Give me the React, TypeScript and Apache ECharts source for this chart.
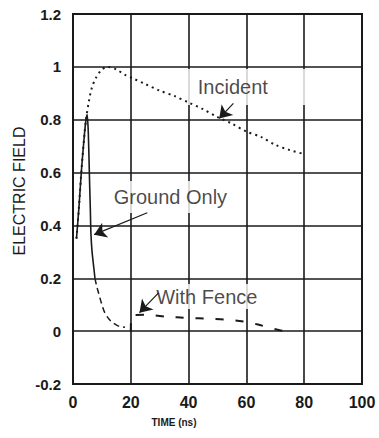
import React, { useEffect, useRef } from "react";
import * as echarts from "echarts";

const xTickLabels = ["0", "20", "40", "60", "80", "100"];
const yTickLabels = ["-0.2", "0", "0.2", "0.4", "0.6", "0.8", "1", "1.2"];

const incident: [number, number][] = [
  [1.2, 0.35], [2, 0.46], [3, 0.62], [4, 0.75], [4.5, 0.8], [5.5, 0.87], [6.5, 0.92],
  [8, 0.96], [10, 0.99], [12, 1.0], [15, 0.99], [18, 0.97], [21, 0.955], [25, 0.935],
  [30, 0.91], [35, 0.89], [40, 0.865], [45, 0.84], [50, 0.81], [55, 0.785], [60, 0.755],
  [65, 0.735], [70, 0.705], [75, 0.685], [80, 0.67],
];

const groundOnlySolid: [number, number][] = [
  [1.2, 0.35], [2, 0.46], [3, 0.62], [4, 0.75], [4.5, 0.8], [4.9, 0.82], [5.3, 0.75],
  [5.7, 0.58], [6, 0.46], [6.2, 0.37], [6.6, 0.3], [7.2, 0.24], [7.6, 0.2],
];

const groundOnlyDashed: [number, number][] = [
  [7.6, 0.2], [8.2, 0.17], [8.7, 0.15], [10, 0.1], [11, 0.07], [12.5, 0.045],
  [14, 0.03], [16, 0.018], [18, 0.015],
];

const withFence: [number, number][] = [
  [20, 0.0], [20.3, 0.06], [25, 0.062], [32, 0.055], [40, 0.05], [47, 0.047],
  [55, 0.042], [60, 0.035], [64, 0.025], [69, 0.01], [75, -0.005],
];

const labelTexts = ["Incident", "Ground Only", "With Fence"];
const labelPoints: [number, number][] = [[55.3, 0.924], [33.7, 0.508], [46.3, 0.129]];
const arrowStarts: [number, number][] = [[55.5, 0.862], [25.7, 0.448], [29.6, 0.145]];
const arrowEnds: [number, number][] = [[50.6, 0.805], [7.3, 0.365], [23.0, 0.07]];

const FONT = "'Liberation Sans', Arial, Helvetica, sans-serif";
const INK = "#1a1a1a";

export default function App() {
  const ref = useRef<HTMLDivElement>(null);

  useEffect(() => {
    if (!ref.current) return;
    const chart = echarts.init(ref.current, undefined, { renderer: "svg" });
    // padding: [top, right, bottom, left]
    const labelPaddings = [
      [8, 42, 8, 12],
      [6, 12, 6, 6],
      [3, 6, 2, 6],
    ];
    chart.setOption({
      animation: false,
      backgroundColor: "#fff",
      grid: {
        left: 73,
        right: 17,
        top: 14,
        bottom: 54,
        show: true,
        borderColor: INK,
        borderWidth: 2,
        backgroundColor: "transparent",
      },
      xAxis: {
        type: "value",
        min: 0,
        max: 100,
        interval: 20,
        axisLine: { show: false },
        axisTick: { show: false },
        splitLine: { show: true, lineStyle: { color: INK, width: 1.6 } },
        axisLabel: {
          margin: 10,
          fontFamily: FONT,
          fontSize: 16,
          fontWeight: "bold",
          color: INK,
          formatter: (v: number) => xTickLabels[Math.round(v / 20)] ?? "",
        },
      },
      yAxis: {
        type: "value",
        min: -0.2,
        max: 1.2,
        interval: 0.2,
        axisLine: { show: false },
        axisTick: { show: false },
        splitLine: { show: true, lineStyle: { color: INK, width: 1.6 } },
        axisLabel: {
          margin: 12,
          fontFamily: FONT,
          fontSize: 15,
          fontWeight: "bold",
          color: INK,
          formatter: (v: number) => yTickLabels[Math.round((v + 0.2) / 0.2)] ?? "",
        },
      },
      graphic: [
        {
          type: "text",
          x: 19,
          y: 191,
          rotation: Math.PI / 2,
          style: {
            text: "ELECTRIC FIELD",
            font: `16px ${FONT}`,
            fill: INK,
            textAlign: "center",
            textVerticalAlign: "middle",
          },
        },
        {
          type: "text",
          x: 174,
          y: 422,
          style: {
            text: "TIME (ns)",
            font: `bold 10px ${FONT}`,
            fill: INK,
            textAlign: "center",
            textVerticalAlign: "middle",
          },
        },
      ],
      series: [
        {
          type: "scatter",
          z: 1,
          symbolSize: 0,
          silent: true,
          data: labelPoints.map((p, i) => {
            const pd = labelPaddings[i];
            return {
              value: p,
              label: {
                show: true,
                position: "inside",
                formatter: labelTexts[i],
                fontFamily: FONT,
                fontSize: 20,
                color: INK,
                backgroundColor: "#fff",
                padding: pd,
                offset: [(pd[1] - pd[3]) / 2, (pd[2] - pd[0]) / 2],
              },
            };
          }),
        },
        {
          type: "line",
          z: 3,
          name: "Incident",
          data: incident,
          showSymbol: false,
          smooth: 0.3,
          lineStyle: { color: INK, width: 2, type: [2, 4] },
        },
        {
          type: "line",
          z: 3,
          name: "Ground Only",
          data: groundOnlySolid,
          showSymbol: false,
          smooth: 0.2,
          lineStyle: { color: INK, width: 1.6, type: "solid" },
        },
        {
          type: "line",
          z: 3,
          name: "Ground Only (late)",
          data: groundOnlyDashed,
          showSymbol: false,
          smooth: 0.3,
          lineStyle: { color: INK, width: 1.5, type: [6, 4] },
        },
        {
          type: "line",
          z: 3,
          name: "With Fence",
          data: withFence,
          showSymbol: false,
          smooth: 0.2,
          lineStyle: { color: INK, width: 2, type: [8, 12] },
        },
        {
          type: "lines",
          z: 4,
          coordinateSystem: "cartesian2d",
          symbol: ["none", "arrow"],
          symbolSize: [9, 12],
          lineStyle: { color: INK, width: 1.2, opacity: 1 },
          itemStyle: { color: INK },
          data: arrowStarts.map((s, i) => ({ coords: [s, arrowEnds[i]] })),
        },
      ],
    });
    return () => chart.dispose();
  }, []);

  return (
    <div
      ref={ref}
      style={{ position: "fixed", left: 0, top: 0, width: 379, height: 438 }}
    />
  );
}
